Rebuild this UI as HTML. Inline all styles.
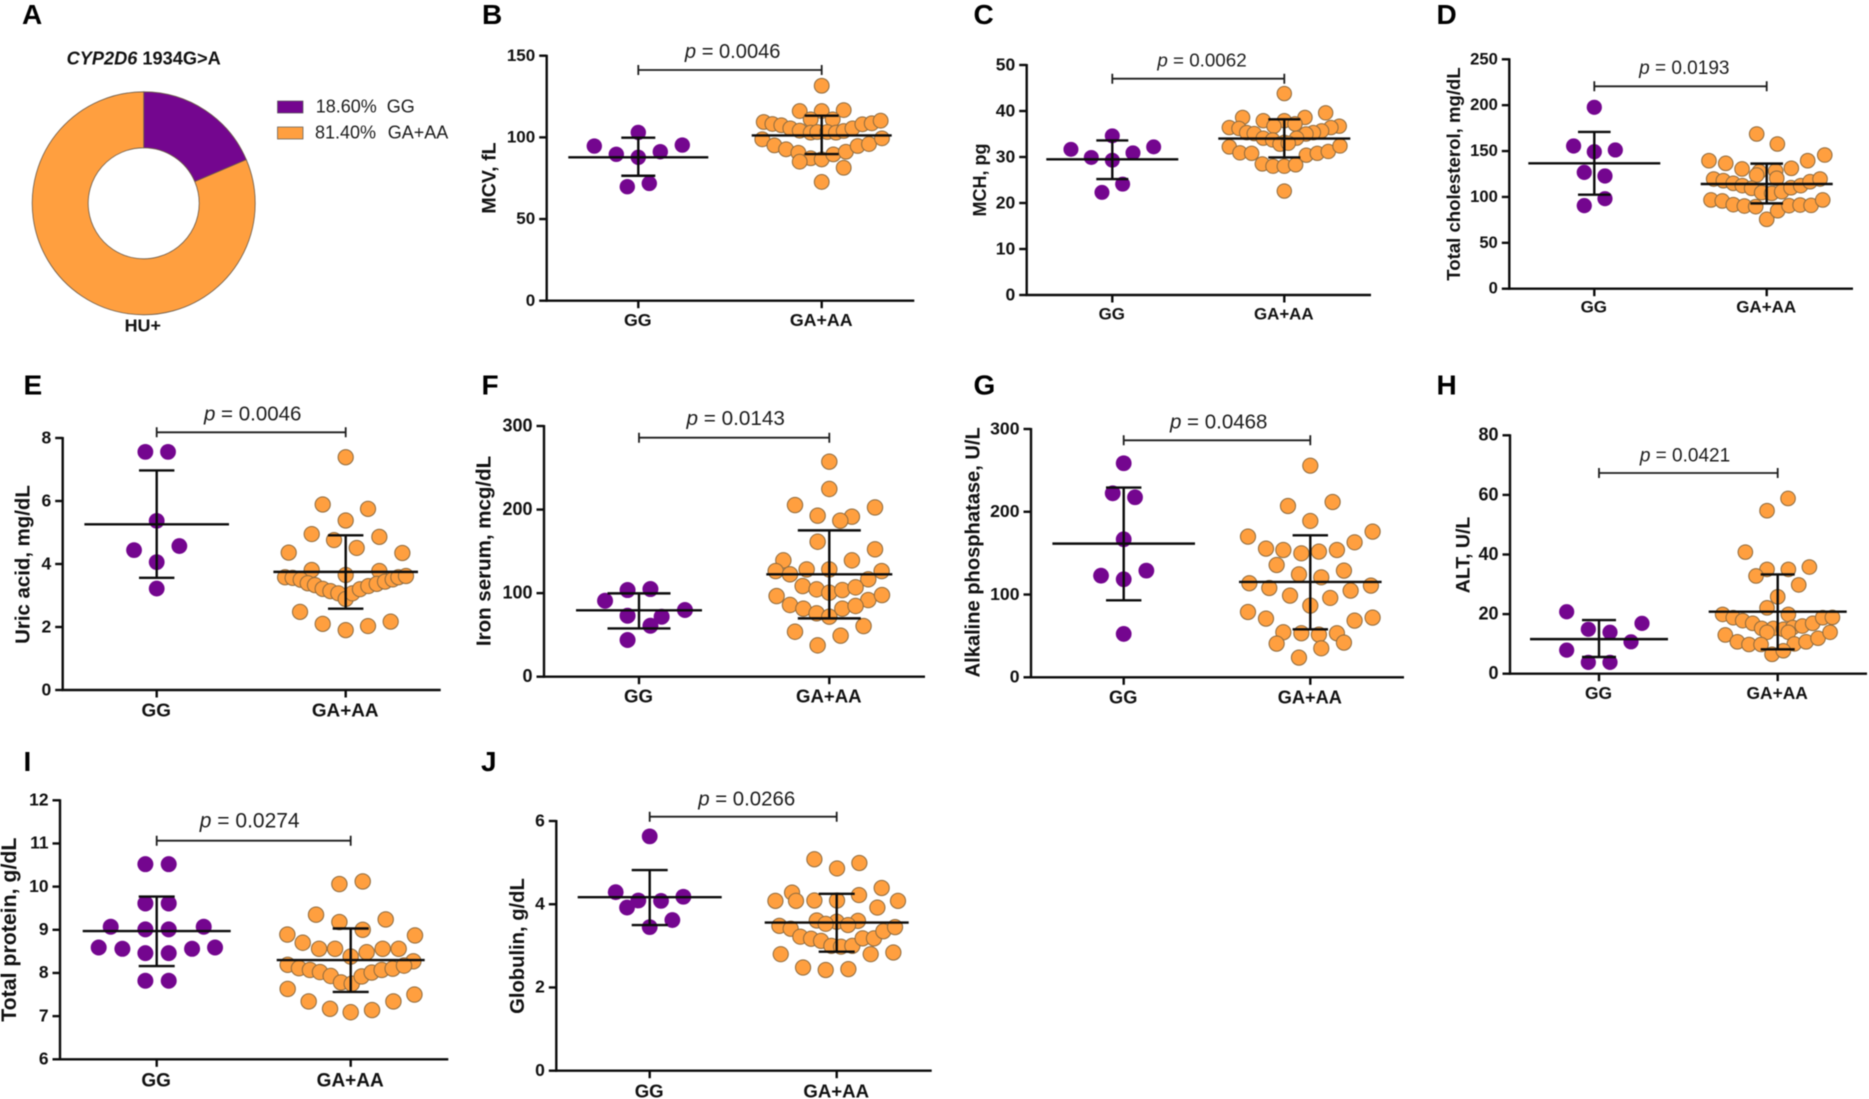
<!DOCTYPE html>
<html lang="en">
<head>
<meta charset="utf-8">
<title>CYP2D6 1934G&gt;A laboratory parameters</title>
<style>
html,body{margin:0;padding:0;background:#fff;width:1869px;height:1099px;overflow:hidden}
svg{display:block;filter:blur(0.4px)}
text{font-family:"Liberation Sans",Arial,sans-serif;fill:#111}
.letter{font-size:28px;font-weight:bold;fill:#000}
.ytitle{font-weight:bold;text-anchor:middle}
.pv{text-anchor:middle;fill:#1c1c1c}
.pv tspan{font-style:italic}
.legend{font-size:18px;fill:#1c1c1c}
</style>
</head>
<body>
<svg id="figure" width="1869" height="1099" viewBox="0 0 1869 1099" xmlns="http://www.w3.org/2000/svg">
  <rect width="1869" height="1099" fill="#fff"/>

  <g id="panel-a">
    <text class="letter" x="22" y="24">A</text>
    <text x="143.7" y="64.5" text-anchor="middle" font-size="18.2" font-weight="bold"><tspan font-style="italic">CYP2D6</tspan> 1934G&gt;A</text>
    <g id="donut"></g>
    <text x="142.8" y="331.5" text-anchor="middle" font-size="17.9" font-weight="bold">HU+</text>
    <rect x="277.5" y="101" width="25.5" height="12" fill="#74068f" stroke="#555" stroke-width="0.7"/>
    <text class="legend" x="315.7" y="112.7">18.60%</text>
    <text class="legend" x="386.7" y="112.7">GG</text>
    <rect x="277.5" y="127" width="25.5" height="12" fill="#ff9f3f" stroke="#555" stroke-width="0.7"/>
    <text class="legend" x="315" y="138.5">81.40%</text>
    <text class="legend" x="387.7" y="138.5">GA+AA</text>
  </g>

  <g id="panel-b">
    <text class="letter" x="482" y="24">B</text>
    <text class="ytitle" font-size="19.6" transform="translate(495.5,178) rotate(-90)">MCV, fL</text>
    <text class="pv" font-size="20.1" x="732.7" y="58"><tspan>p</tspan> = 0.0046</text>
  </g>
  <g id="panel-c">
    <text class="letter" x="973.5" y="24">C</text>
    <text class="ytitle" font-size="18" transform="translate(986,180) rotate(-90)">MCH, pg</text>
    <text class="pv" font-size="18.8" x="1202" y="66.7"><tspan>p</tspan> = 0.0062</text>
  </g>
  <g id="panel-d">
    <text class="letter" x="1436.5" y="24">D</text>
    <text class="ytitle" font-size="18.6" transform="translate(1460,174) rotate(-90)">Total cholesterol, mg/dL</text>
    <text class="pv" font-size="19" x="1684.3" y="74"><tspan>p</tspan> = 0.0193</text>
  </g>
  <g id="panel-e">
    <text class="letter" x="23.5" y="394.3">E</text>
    <text class="ytitle" font-size="20.4" transform="translate(29.3,564.5) rotate(-90)">Uric acid, mg/dL</text>
    <text class="pv" font-size="20.5" x="252.7" y="420.7"><tspan>p</tspan> = 0.0046</text>
  </g>
  <g id="panel-f">
    <text class="letter" x="481.5" y="394.3">F</text>
    <text class="ytitle" font-size="20.5" transform="translate(490.7,551) rotate(-90)">Iron serum, mcg/dL</text>
    <text class="pv" font-size="20.7" x="735.7" y="425"><tspan>p</tspan> = 0.0143</text>
  </g>
  <g id="panel-g">
    <text class="letter" x="973.5" y="394.3">G</text>
    <text class="ytitle" font-size="20.1" transform="translate(979.3,552.3) rotate(-90)">Alkaline phosphatase, U/L</text>
    <text class="pv" font-size="20.5" x="1218.7" y="428.7"><tspan>p</tspan> = 0.0468</text>
  </g>
  <g id="panel-h">
    <text class="letter" x="1436.5" y="394.3">H</text>
    <text class="ytitle" font-size="19.5" transform="translate(1469.3,555) rotate(-90)">ALT, U/L</text>
    <text class="pv" font-size="19" x="1685" y="461.7"><tspan>p</tspan> = 0.0421</text>
  </g>
  <g id="panel-i">
    <text class="letter" x="23.5" y="771">I</text>
    <text class="ytitle" font-size="21.3" transform="translate(16,929.7) rotate(-90)">Total protein, g/dL</text>
    <text class="pv" font-size="21" x="249.7" y="827.3"><tspan>p</tspan> = 0.0274</text>
  </g>
  <g id="panel-j">
    <text class="letter" x="481" y="771">J</text>
    <text class="ytitle" font-size="20.2" transform="translate(524,946) rotate(-90)">Globulin, g/dL</text>
    <text class="pv" font-size="20.4" x="746.7" y="805.7"><tspan>p</tspan> = 0.0266</text>
  </g>
</svg>

<script>
// Shared categories and donut shares
const categories = ['GG', 'GA+AA'];
const donutShares = [18.6, 81.4];

// Offsets are swarm-column numbers; summaries are [lower SD, mean, upper SD]
const bTicks = [0, 50, 100, 150];
const bGGValues = [94.7, 89.6, 103, 87.8, 91.2, 95.3, 69.8, 71.8];
const bGGOffsets = [-4, -2, 0, 0, 2, 4, -1, 1];
const bGAValues = [131.6, 116.1, 116.1, 116.7, 111, 111, 109.4, 108.2, 107.4, 105.5, 104.1, 102.9, 103.3, 103.3, 102.9, 103.9, 105.5, 108, 108.6, 110.2, 98.8, 95.1, 92.7, 90.6, 87.2, 86.5, 89.6, 91.2, 94.7, 95.9, 99.4, 85.1, 81.4, 72.7];
const bGAOffsets = [0, -2, 0, 2, -1, 1, -5.27, -4.48, -3.67, -2.85, -2, -1, -0.4, 0.5, 1.3, 2, 2.8, 3.7, 4.55, 5.36, -5.4, -4.3, -3.24, -2.12, -1, 0, 1.06, 2.2, 3.27, 4.3, 5.48, -2, 2, 0];
const bGGSummary = [76.5, 87.8, 99.8];
const bGASummary = [89.8, 101.2, 113.3];

const cTicks = [0, 10, 20, 30, 40, 50];
const cGGValues = [31.67, 29.9, 34.6, 29.3, 30.9, 32.2, 22.3, 24.1];
const cGGOffsets = [-3.76, -1.91, 0, 0, 1.88, 3.76, -0.94, 0.94];
const cGAValues = [43.8, 39.6, 38.6, 37.9, 37.9, 38.6, 36.7, 37.2, 36.4, 36.2, 36.7, 36.4, 35.7, 35.3, 35, 35.3, 35.1, 34.1, 33.7, 33.2, 34.1, 32.8, 33, 32.2, 30.9, 30.8, 28.5, 28, 28, 28.3, 30.4, 30.8, 31.2, 32.4, 22.6];
const cGAOffsets = [0, 3.76, -3.79, -1.91, 0, 1.88, -0.94, 0.97, -5, -4.12, 5, 4.24, 3.39, 2.64, 1.97, -3.42, -2.73, -1.91, -1.06, 0, 1.12, -0.39, 0.36, -5, -4.03, -2.97, -2, -1.03, 0, 1.03, 2, 3, 4, 5.06, 0];
const cGGSummary = [25.2, 29.5, 33.6];
const cGASummary = [29.9, 34, 38.2];

const dTicks = [0, 50, 100, 150, 200, 250];
const dGGValues = [197.7, 155.5, 149.3, 151.2, 126.8, 122.8, 98.1, 90.5];
const dGGOffsets = [0, -1.94, 0, 1.97, -0.94, 1, 1, -0.94];
const dGAValues = [168.6, 157.7, 145.7, 139.5, 139.5, 136.6, 130.5, 131.2, 127.5, 128.3, 123.9, 120.3, 119.5, 117.7, 114.8, 112.3, 109.4, 104.7, 103.9, 105.7, 110.1, 112.3, 116.6, 119.5, 96.7, 95.6, 91.6, 90.1, 89.4, 75.6, 85, 90.5, 91.2, 90.8, 96.7];
const dGAOffsets = [-0.94, 1, 5.44, 3.84, -5.41, -3.84, -2.31, 2.31, -0.69, 0.84, -0.94, 0.94, -4.97, -4.06, -3.13, -2.28, -1.41, -0.47, 0.47, 1.41, 2.28, 3.19, 4.06, 5, -5.22, -4.16, -3.13, -2.09, -1.03, 0, 1.03, 2.09, 3.13, 4.16, 5.25];
const dGGSummary = [102.5, 136.6, 170.8];
const dGASummary = [93, 114.1, 136.3];

const eTicks = [0, 2, 4, 6, 8];
const eGGValues = [7.56, 7.56, 5.37, 4.44, 4.57, 4.06, 3.22];
const eGGOffsets = [-1, 1, 0, -2, 2, 0, 0];
const eGAValues = [7.39, 5.89, 5.75, 5.38, 4.95, 4.86, 4.76, 4.51, 4.36, 4.35, 3.81, 3.78, 3.65, 3.58, 3.56, 3.5, 3.39, 3.33, 3.21, 3.14, 3.07, 2.89, 3.07, 3.2, 3.3, 3.37, 3.44, 3.51, 3.58, 3.62, 2.48, 2.1, 1.9, 2.03, 2.17];
const eGAOffsets = [0, -2.03, 1.97, 0, -3, 2.97, -1.03, 0.97, -5.03, 5, -3, 2.97, 0, -5.35, -4.68, -3.97, -3.35, -2.71, -2.03, -1.35, -0.65, 0, 0.59, 1.26, 2, 2.74, 3.47, 4.15, 4.65, 5.32, -4.03, -2.03, 0, 1.97, 3.97];
const eGGSummary = [3.56, 5.26, 6.97];
const eGASummary = [2.58, 3.75, 4.91];

const fTicks = [0, 100, 200, 300];
const fGGValues = [90.9, 103.7, 104.9, 73, 71.8, 79.8, 61, 43.9];
const fGGOffsets = [-2.97, -1, 1, -1, 1.98, 4.02, 1, -1];
const fGAValues = [257.3, 224.6, 205.4, 202.6, 192.7, 191.5, 186.7, 161.5, 152.4, 139.2, 139.2, 126.4, 122.5, 128.4, 128.4, 126.4, 116.5, 108.5, 104.5, 100.5, 103.7, 106.9, 91.7, 97.7, 96.5, 85.8, 81.4, 75.8, 71.8, 81.4, 84.6, 53.8, 60.6, 49.1, 37.5];
const fGAOffsets = [0, 0, -3, 4, -1.02, 1.98, 0.96, -1.02, 4, 1.98, -4.02, -4.69, -3.44, -1.98, 0, 4.58, 3.41, -2.33, -1.11, 0, 1.14, 2.3, 3.41, 4.61, -4.61, -3.44, -2.27, -1.11, 0, 1.14, 2.3, -3, 3, 0.99, -1.02];
const fGGSummary = [57.8, 79.4, 99.7];
const fGASummary = [69.8, 122.5, 175.1];

const gTicks = [0, 100, 200, 300];
const gGGValues = [258.6, 222.3, 217.5, 166.7, 122.8, 118.4, 128.9, 52.4];
const gGGOffsets = [0, -0.97, 1, 0, -2, 0, 2, 0];
const gGAValues = [255.7, 211.8, 207, 188.9, 176, 170, 163.1, 155.5, 153.8, 149.8, 151.8, 153.8, 135.7, 128.9, 124.4, 120.8, 113.6, 107.9, 98.7, 86.6, 95.9, 104.7, 110.8, 78.9, 70.9, 68.5, 72.1, 54.4, 53.2, 51.6, 53.2, 40.7, 41.9, 35, 23.8];
const gGAOffsets = [0, 1.97, -1.97, 0, 5.5, -5.5, 3.91, -3.91, -2.38, -0.79, 0.76, 2.35, -2.97, 2.97, -1, 0.97, -5.38, -3.62, -1.79, 0, 1.76, 3.56, 5.35, -5.5, -3.91, 3.91, 5.5, -2.38, -0.79, 0.76, 2.35, -2.97, 2.97, 0.97, -1];
const gGGSummary = [93, 161.5, 229.2];
const gGASummary = [58, 115.2, 171.6];

const hTicks = [0, 20, 40, 60, 80];
const hGGValues = [20.8, 14.9, 13.9, 16.9, 10.7, 7.9, 3.8, 3.8];
const hGGOffsets = [-3.03, -1, 1.03, 4.03, 3, -3.03, -1, 1.03];
const hGAValues = [58.8, 54.7, 40.8, 35.8, 35, 35, 32.8, 29.8, 25.8, 22.1, 19.9, 19.9, 18.8, 17.8, 16.9, 15.2, 15.2, 14.9, 15.5, 16, 16.9, 18.8, 18.9, 13.9, 13.9, 13, 10.7, 9.8, 9.8, 10, 10.7, 11.9, 13.9, 6.5, 7.7];
const hGAOffsets = [0.97, -1, -3.03, 2.97, -1, 1, -2.03, 1.97, 0, -1, 1, -5.16, -4.16, -3.28, -2.34, -1.5, -0.41, 0.53, 1.41, 2.31, 3.28, 4.22, 5.13, -1, 1, -4.91, -3.78, -2.69, -1.56, 1.56, 2.66, 3.78, 4.91, -0.53, 0.53];
const hGGSummary = [5.6, 11.6, 18];
const hGASummary = [8.2, 20.8, 33.3];

const iTicks = [6, 7, 8, 9, 10, 11, 12];
const iGGValues = [10.52, 10.52, 9.61, 9.61, 9.07, 9.01, 9.01, 9.07, 8.59, 8.56, 8.46, 8.46, 8.56, 8.59, 7.82, 7.82];
const iGGOffsets = [-0.97, 1.03, -0.97, 1.03, -3.94, -0.97, 1.03, 4.03, -4.97, -2.94, -0.97, 1.03, 3.03, 5, -0.97, 1.03];
const iGAValues = [10.12, 10.06, 9.35, 9.18, 9.24, 9, 8.89, 8.87, 8.7, 8.56, 8.56, 8.48, 8.56, 8.56, 8.38, 8.27, 8.19, 8.11, 8.07, 8.02, 7.93, 7.78, 7.75, 7.92, 8.01, 8.07, 8.1, 8.17, 7.63, 7.34, 7.17, 7.09, 7.14, 7.34, 7.5];
const iGAOffsets = [1.03, -0.97, -2.97, -0.97, 3, 1.03, -5.43, 5.51, -4.11, -2.71, -1.34, 1.37, 2.74, 4.11, 0, 5.37, -5.4, -4.43, -3.49, -2.63, -1.71, -0.83, 0.09, 0.94, 1.8, 2.66, 3.6, 4.57, -5.4, -3.6, -1.77, 0, 1.83, 3.66, 5.46];
const iGGSummary = [8.16, 8.97, 9.77];
const iGASummary = [7.56, 8.3, 9.03];

const jTicks = [0, 2, 4, 6];
const jGGValues = [5.63, 4.29, 4.09, 4.08, 4.18, 3.92, 3.62, 3.45];
const jGGOffsets = [0, -3, -1, 1, 2.97, -2, 2, 0];
const jGAValues = [5.08, 4.99, 4.86, 4.39, 4.28, 4.22, 4.08, 4.08, 4.09, 4.09, 4.08, 3.92, 3.61, 3.58, 3.6, 3.53, 3.5, 3.48, 3.41, 3.22, 3.17, 3.12, 3, 2.98, 3, 3.18, 3.18, 3.35, 3.45, 2.8, 2.8, 2.84, 2.48, 2.42, 2.44];
const jGAOffsets = [-1.97, 2, 0.03, 3.97, -3.94, 1.97, -5.41, -3.59, -1.97, 0.03, 5.41, 3.59, -1.76, 0, 1.88, -0.97, 1, -5.06, -4.06, -3.21, -2.26, -1.38, -0.47, 0.38, 1.38, 2.29, 3.29, 4.12, 5.15, -4.94, 3, 5, -2.97, -0.97, 1.03];
const jGGSummary = [3.5, 4.17, 4.82];
const jGASummary = [2.86, 3.56, 4.25];

const NS = 'http://www.w3.org/2000/svg';
const INK = '#0c0c0c';
const PURPLE = '#74068f';
const ORANGE = '#ff9f3f';
const ORANGE_EDGE = '#8d6a3e';
const LINE = 2.4;

function svgEl(parent, tag, attrs) {
  const el = document.createElementNS(NS, tag);
  Object.keys(attrs).forEach(function (k) { el.setAttribute(k, attrs[k]); });
  parent.appendChild(el);
  return el;
}

function drawDonut(shares) {
  const host = document.getElementById('donut');
  const cx = 143.7, cy = 203.3, ro = 111.5, ri = 55.5;
  const total = shares.reduce(function (a, b) { return a + b; }, 0);
  const fills = [PURPLE, ORANGE];
  let start = 0;
  shares.forEach(function (s, idx) {
    const a0 = start / total * 2 * Math.PI;
    const a1 = (start + s) / total * 2 * Math.PI;
    const large = (a1 - a0) > Math.PI ? 1 : 0;
    const pt = function (r, a) { return (cx + r * Math.sin(a)).toFixed(2) + ' ' + (cy - r * Math.cos(a)).toFixed(2); };
    const d = 'M' + pt(ro, a0) + ' A' + ro + ' ' + ro + ' 0 ' + large + ' 1 ' + pt(ro, a1) +
              ' L' + pt(ri, a1) + ' A' + ri + ' ' + ri + ' 0 ' + large + ' 0 ' + pt(ri, a0) + ' Z';
    const slice = svgEl(host, 'path', { d: d, fill: fills[idx], stroke: '#6b5a48', 'stroke-width': 0.8 });
    
    
    start += s;
  });
}

function drawPanel(id, o, ticks, ggV, ggO, gaV, gaO, ggS, gaS) {
  const host = document.getElementById(id);
  const y = function (v) { return o.yBottom - (v - o.min) / (o.max - o.min) * (o.yBottom - o.yTop); };
  const cat = function (i) { return o.cat0 + i * (o.cat1 - o.cat0); };

  const yAxis = svgEl(host, 'line', { x1: o.axisX, x2: o.axisX, y1: o.yTop - 1, y2: o.yBottom + 1, stroke: INK, 'stroke-width': LINE });
  
  
  const xAxis = svgEl(host, 'line', { x1: o.axisX - 1, x2: o.xEnd, y1: o.yBottom, y2: o.yBottom, stroke: INK, 'stroke-width': LINE });
  
  

  ticks.forEach(function (t) {
    const tick = svgEl(host, 'line', { x1: o.axisX - 7.5, x2: o.axisX, y1: y(t), y2: y(t), stroke: INK, 'stroke-width': LINE });
    
    
    const lab = svgEl(host, 'text', { x: o.axisX - 11.5, y: y(t) + 0.3 * o.tickFont, 'text-anchor': 'end', 'font-size': o.tickFont, 'font-weight': 'bold' });
    
    
    lab.textContent = t;
  });

  categories.forEach(function (c, i) {
    const tick = svgEl(host, 'line', { x1: cat(i), x2: cat(i), y1: o.yBottom, y2: o.yBottom + 7.5, stroke: INK, 'stroke-width': LINE });
    
    
    const lab = svgEl(host, 'text', { x: cat(i) - 0.5, y: o.catBase, 'text-anchor': 'middle', 'font-size': o.catFont, 'font-weight': 'bold' });
    
    
    lab.textContent = c;
  });

  ggV.forEach(function (v, i) {
    const dot = svgEl(host, 'circle', { cx: cat(0) + ggO[i] * o.slot, cy: y(v), r: o.r + 0.3, fill: PURPLE });
    
    
  });
  gaV.forEach(function (v, i) {
    const dot = svgEl(host, 'circle', { cx: cat(1) + gaO[i] * o.slot, cy: y(v), r: o.r, fill: ORANGE, stroke: ORANGE_EDGE, 'stroke-width': 1 });
    
    
  });

  [ggS, gaS].forEach(function (s, i) {
    const cx = cat(i);
    const stem = svgEl(host, 'line', { x1: cx, x2: cx, y1: y(s[0]), y2: y(s[2]), stroke: INK, 'stroke-width': LINE });
    
    
    const lower = svgEl(host, 'line', { x1: cx - o.capHalf, x2: cx + o.capHalf, y1: y(s[0]), y2: y(s[0]), stroke: INK, 'stroke-width': LINE });
    
    
    const upper = svgEl(host, 'line', { x1: cx - o.capHalf, x2: cx + o.capHalf, y1: y(s[2]), y2: y(s[2]), stroke: INK, 'stroke-width': LINE });
    
    
    const mean = svgEl(host, 'line', { x1: cx - o.meanHalf, x2: cx + o.meanHalf, y1: y(s[1]), y2: y(s[1]), stroke: INK, 'stroke-width': LINE });
    
    
  });

  const br = svgEl(host, 'path', {
    d: 'M' + cat(0) + ' ' + (o.bracketY - 5) + ' V' + (o.bracketY + 5) + ' M' + cat(0) + ' ' + o.bracketY + ' H' + cat(1) + ' M' + cat(1) + ' ' + (o.bracketY - 5) + ' V' + (o.bracketY + 5),
    fill: 'none', stroke: '#1e1e1e', 'stroke-width': 1.8
  });
  
  
}

drawDonut(donutShares);

drawPanel('panel-b', { axisX: 546.7, xEnd: 914.3, yTop: 55.7, yBottom: 300.7, min: 0, max: 150, cat0: 638.3, cat1: 821.7, slot: 11, r: 7.4, meanHalf: 70, capHalf: 17, tickFont: 17, catFont: 17.8, catBase: 326, bracketY: 70 }, bTicks, bGGValues, bGGOffsets, bGAValues, bGAOffsets, bGGSummary, bGASummary);
drawPanel('panel-c', { axisX: 1026.7, xEnd: 1371, yTop: 65, yBottom: 295, min: 0, max: 50, cat0: 1112.3, cat1: 1284.3, slot: 11, r: 7.2, meanHalf: 66, capHalf: 16, tickFont: 17.5, catFont: 16.9, catBase: 319.3, bracketY: 78.7 }, cTicks, cGGValues, cGGOffsets, cGAValues, cGAOffsets, cGGSummary, cGASummary);
drawPanel('panel-d', { axisX: 1509.3, xEnd: 1853, yTop: 59.3, yBottom: 288.7, min: 0, max: 250, cat0: 1594.3, cat1: 1766.7, slot: 10.67, r: 7.3, meanHalf: 66, capHalf: 16.3, tickFont: 16.6, catFont: 17, catBase: 312.7, bracketY: 86.3 }, dTicks, dGGValues, dGGOffsets, dGAValues, dGAOffsets, dGGSummary, dGASummary);
drawPanel('panel-e', { axisX: 62.7, xEnd: 440.7, yTop: 438, yBottom: 690, min: 0, max: 8, cat0: 156.7, cat1: 345.7, slot: 11.33, r: 7.6, meanHalf: 72.3, capHalf: 17.7, tickFont: 17.5, catFont: 18.9, catBase: 716.7, bracketY: 432.3 }, eTicks, eGGValues, eGGOffsets, eGAValues, eGAOffsets, eGGSummary, eGASummary);
drawPanel('panel-f', { axisX: 544, xEnd: 925, yTop: 426, yBottom: 676.7, min: 0, max: 300, cat0: 639, cat1: 829.3, slot: 11.43, r: 7.7, meanHalf: 63, capHalf: 31.5, tickFont: 18, catFont: 18.6, catBase: 702.7, bracketY: 437.7 }, fTicks, fGGValues, fGGOffsets, fGAValues, fGAOffsets, fGGSummary, fGASummary);
drawPanel('panel-g', { axisX: 1031, xEnd: 1404, yTop: 429, yBottom: 677.3, min: 0, max: 300, cat0: 1123.7, cat1: 1310.3, slot: 11.33, r: 7.6, meanHalf: 71.3, capHalf: 17.7, tickFont: 17.6, catFont: 18.2, catBase: 703.3, bracketY: 440.3 }, gTicks, gGGValues, gGGOffsets, gGAValues, gGAOffsets, gGGSummary, gGASummary);
drawPanel('panel-h', { axisX: 1510, xEnd: 1867, yTop: 435.3, yBottom: 673.7, min: 0, max: 80, cat0: 1599, cat1: 1777.7, slot: 10.67, r: 7.3, meanHalf: 69, capHalf: 17, tickFont: 18, catFont: 17.4, catBase: 699, bracketY: 473 }, hTicks, hGGValues, hGGOffsets, hGAValues, hGAOffsets, hGGSummary, hGASummary);
drawPanel('panel-i', { axisX: 60, xEnd: 448.3, yTop: 800.3, yBottom: 1059.3, min: 6, max: 12, cat0: 156.7, cat1: 350.7, slot: 11.67, r: 7.7, meanHalf: 74, capHalf: 18, tickFont: 17.4, catFont: 19, catBase: 1086.7, bracketY: 840.7 }, iTicks, iGGValues, iGGOffsets, iGAValues, iGAOffsets, iGGSummary, iGASummary);
drawPanel('panel-j', { axisX: 556.3, xEnd: 931.7, yTop: 821, yBottom: 1070.7, min: 0, max: 6, cat0: 649.7, cat1: 836.7, slot: 11.33, r: 7.6, meanHalf: 72, capHalf: 18, tickFont: 17.5, catFont: 18.6, catBase: 1097.3, bracketY: 816.7 }, jTicks, jGGValues, jGGOffsets, jGAValues, jGAOffsets, jGGSummary, jGASummary);
</script>
</body>
</html>
